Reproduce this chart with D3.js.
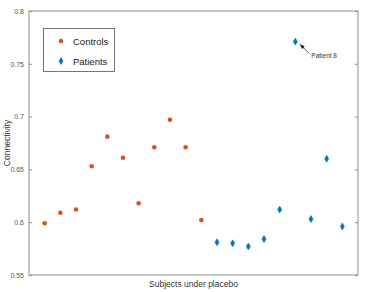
<!DOCTYPE html>
<html>
<head>
<meta charset="utf-8">
<script src="https://cdn.jsdelivr.net/npm/d3@7"></script>
<style>
  body { margin: 0; background: #fff; }
  text { font-family: "Liberation Sans", Arial, sans-serif; }
</style>
</head>
<body>
<svg id="chart" width="366" height="292"></svg>
<script>
// subject index along x, connectivity along y
var controlIdx = [1, 2, 3, 4, 5, 6, 7, 8, 9, 10, 11];
var controlVal = [0.599, 0.609, 0.612, 0.653, 0.681, 0.661, 0.618, 0.671, 0.697, 0.671, 0.602];
var patientIdx = [12, 13, 14, 15, 16, 17, 18, 19, 20];
var patientVal = [0.581, 0.580, 0.577, 0.584, 0.612, 0.771, 0.603, 0.660, 0.596];
var yTicks = [0.55, 0.6, 0.65, 0.7, 0.75, 0.8];
var seriesNames = ['Controls', 'Patients'];

var orange = '#d95319',
    blue = '#0072bd',
    axisColor = '#8c8c8c';

// plot box edges (not "top": that name clashes with window.top)
var boxL = 29, boxR = 358, boxT = 11, boxB = 275;

var svg = d3.select('#chart');

var x = d3.scaleLinear().domain([0, 21]).range([boxL, boxR]);
var y = d3.scaleLinear().domain([0.55, 0.8]).range([boxB, boxT]);

// box with ticks on left and right
svg.append('g')
    .attr('transform', 'translate(' + boxL + ',0)')
    .call(d3.axisLeft(y).tickValues(yTicks).tickSize(-3).tickPadding(5).tickFormat(d3.format('')))
    .call(function(g) {
        g.select('.domain').remove();
        g.selectAll('line').attr('stroke', axisColor);
        g.selectAll('text').attr('fill', '#555').style('font-size', '7px')
            .style('font-family', '"Liberation Sans", Arial, sans-serif');
    });

svg.append('g')
    .attr('transform', 'translate(' + boxR + ',0)')
    .call(d3.axisRight(y).tickValues(yTicks).tickSize(-3).tickFormat(''))
    .call(function(g) {
        g.select('.domain').remove();
        g.selectAll('line').attr('stroke', axisColor);
    });

svg.append('rect')
    .attr('x', boxL).attr('y', boxT)
    .attr('width', boxR - boxL).attr('height', boxB - boxT)
    .attr('fill', 'none')
    .attr('stroke', axisColor)
    .attr('stroke-width', 1);

// controls
svg.append('g').selectAll('circle')
    .data(controlIdx)
    .join('circle')
    .attr('cx', function(d) { return x(d); })
    .attr('cy', function(d, i) { return y(controlVal[i]); })
    .attr('r', 2.3)
    .attr('fill', orange);

// patients (diamonds)
var diamond = d3.symbol().type(d3.symbolDiamond).size(14);
svg.append('g').selectAll('path')
    .data(patientIdx)
    .join('path')
    .attr('d', diamond)
    .attr('transform', function(d, i) { return 'translate(' + x(d) + ',' + y(patientVal[i]) + ')'; })
    .attr('fill', blue)
    .attr('stroke', blue)
    .attr('stroke-width', 0.6);

// annotation for patient 8
var defs = svg.append('defs');
defs.append('marker')
    .attr('id', 'arrowhead')
    .attr('viewBox', '0 0 10 10')
    .attr('refX', 9).attr('refY', 5)
    .attr('markerWidth', 6).attr('markerHeight', 6)
    .attr('orient', 'auto')
    .append('path')
    .attr('d', 'M0,1 L10,5 L0,9 z')
    .attr('fill', '#111');

var p8x = x(patientIdx[5]), p8y = y(patientVal[5]);
svg.append('line')
    .attr('x1', p8x + 14).attr('y1', p8y + 12)
    .attr('x2', p8x + 5).attr('y2', p8y + 3)
    .attr('stroke', '#333')
    .attr('stroke-width', 0.8)
    .attr('marker-end', 'url(#arrowhead)');
svg.append('text')
    .attr('x', p8x + 16).attr('y', p8y + 16)
    .attr('fill', '#333')
    .style('font-size', '6.5px')
    .text('Patient 8');

// legend
var legend = svg.append('g');
legend.append('rect')
    .attr('x', 43.5).attr('y', 28.5)
    .attr('width', 71).attr('height', 43)
    .attr('fill', '#fff')
    .attr('stroke', '#555')
    .attr('stroke-width', 0.8);
legend.append('circle')
    .attr('cx', 61).attr('cy', 41).attr('r', 2.3).attr('fill', orange);
legend.append('path')
    .attr('d', diamond)
    .attr('transform', 'translate(61,61)')
    .attr('fill', blue).attr('stroke', blue).attr('stroke-width', 0.6);
legend.selectAll('text')
    .data(seriesNames)
    .join('text')
    .attr('x', 73)
    .attr('y', function(d, i) { return 44.5 + i * 20; })
    .style('font-size', '9.5px')
    .attr('fill', '#222')
    .text(function(d) { return d; });

// axis labels
svg.append('text')
    .attr('x', (boxL + boxR) / 2).attr('y', 287)
    .attr('text-anchor', 'middle')
    .style('font-size', '8.5px')
    .attr('fill', '#333')
    .text('Subjects under placebo');

svg.append('text')
    .attr('transform', 'translate(10,' + (boxT + boxB) / 2 + ') rotate(-90)')
    .attr('text-anchor', 'middle')
    .style('font-size', '8.5px')
    .attr('fill', '#333')
    .text('Connectivity');
</script>
</body>
</html>
